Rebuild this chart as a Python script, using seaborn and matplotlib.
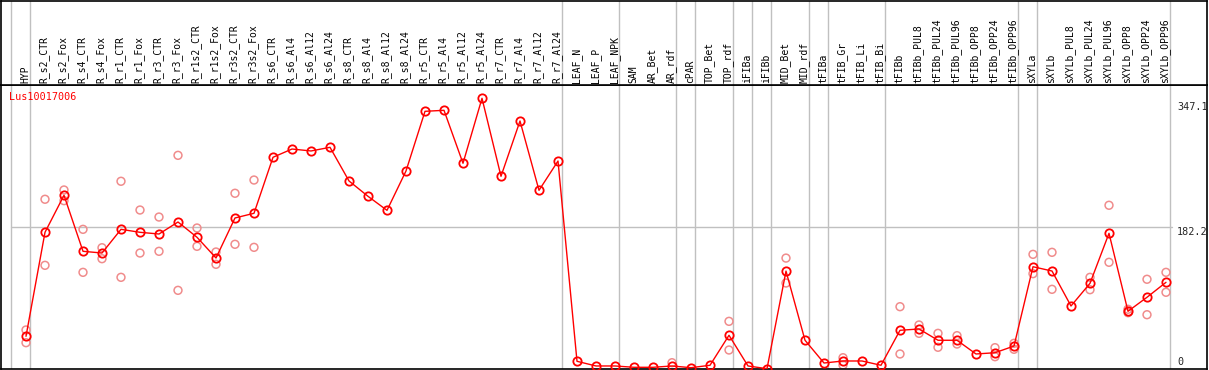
import numpy as np
import pandas as pd
import matplotlib
matplotlib.use("Agg")
import matplotlib.pyplot as plt
import matplotlib.transforms as mtransforms
import seaborn as sns

title = "Lus10017006"
categories = ["HYP", "R_s2_CTR", "R_s2_Fox", "R_s4_CTR", "R_s4_Fox", "R_r1_CTR", "R_r1_Fox",
              "R_r3_CTR", "R_r3_Fox", "R_r1s2_CTR", "R_r1s2_Fox", "R_r3s2_CTR", "R_r3s2_Fox",
              "R_s6_CTR", "R_s6_Al4", "R_s6_Al12", "R_s6_Al24", "R_s8_CTR", "R_s8_Al4",
              "R_s8_Al12", "R_s8_Al24", "R_r5_CTR", "R_r5_Al4", "R_r5_Al12", "R_r5_Al24",
              "R_r7_CTR", "R_r7_Al4", "R_r7_Al12", "R_r7_Al24", "LEAF_N", "LEAF_P", "LEAF_NPK",
              "SAM", "AR_Bet", "AR_rdf", "cPAR", "TOP_Bet", "TOP_rdf", "iFIBa", "iFIBb",
              "MID_Bet", "MID_rdf", "tFIBa", "tFIB_Gr", "tFIB_Li", "tFIB_Bi", "tFIBb",
              "tFIBb_PUL8", "tFIBb_PUL24", "tFIBb_PUL96", "tFIBb_OPP8", "tFIBb_OPP24",
              "tFIBb_OPP96", "sXYLa", "sXYLb", "sXYLb_PUL8", "sXYLb_PUL24", "sXYLb_PUL96",
              "sXYLb_OPP8", "sXYLb_OPP24", "sXYLb_OPP96"]

means = [41.6, 175.1, 222.6, 150.7, 148.5, 178.9, 175.1, 172.9, 188.3, 168.7, 142.1, 193.5, 199.5,
         271.4, 282.0, 279.5, 284.2, 241.0, 221.3, 203.3, 253.8, 330.4, 331.7, 263.7, 347.1,
         247.0, 318.0, 229.0, 266.6,
         9.5, 3.5, 3.5, 1.8, 1.8, 3.5, 1.3, 4.4, 42.9, 3.5, 0.0, 125.3, 36.5, 7.3, 9.9, 9.9, 4.4, 49.3,
         51.0, 36.5, 36.5, 18.9, 20.5, 29.1, 130.9, 125.4, 80.5, 109.6, 173.8, 73.7, 91.7, 110.9]

nan = np.nan
rep_a = [49.7, 217.5, 229.4, 178.9, 155.3, 240.6, 203.7, 194.7, 273.9, 180.6, 149.8, 225.2, 242.2,
         nan, nan, nan, nan, nan, nan, nan, nan, nan, nan, nan, nan, nan, nan, nan, nan,
         nan, nan, nan, nan, nan, 7.7, nan, nan, 60.8, nan, nan, 142.0, nan, nan, 14.1, nan, nan, 79.6,
         56.1, 45.4, 42.4, nan, 27.0, 32.6, 146.8, 149.4, nan, 117.3, 209.8, 76.3, 114.8, 123.7]
rep_b = [33.4, 132.7, 215.7, 123.7, 141.2, 117.3, 148.5, 150.7, 100.6, 157.1, 134.0, 159.7, 155.8,
         nan, nan, nan, nan, nan, nan, nan, nan, nan, nan, nan, nan, nan, nan, nan, nan,
         nan, nan, nan, nan, nan, nan, nan, nan, 24.0, nan, nan, 110.0, nan, nan, 4.7, nan, nan, 18.9,
         45.4, 27.5, 31.7, nan, 15.4, 24.9, 122.0, 101.9, nan, 101.4, 136.6, 71.9, 69.3, 98.1]

group_ends = ["HYP", "R_r7_Al24", "LEAF_NPK", "AR_rdf", "cPAR", "TOP_rdf", "iFIBa", "iFIBb",
              "MID_rdf", "tFIBa", "tFIB_Bi", "tFIBb_OPP96", "sXYLa", "sXYLb_OPP96"]
ytick_values = [347.1, 182.2, 0]
ytick_labels = ["347.1", "182.2", "0"]

idx = np.arange(len(categories))
df_mean = pd.DataFrame({"x": idx, "y": means})
df_rep = pd.concat([pd.DataFrame({"x": idx, "y": rep_a}), pd.DataFrame({"x": idx, "y": rep_b})]).dropna()

W, H = 1209, 370
fig = plt.figure(figsize=(W / 100, H / 100), dpi=100)
sns.set_style("white")
mono = "DejaVu Sans Mono"

def px(x):
    return (x - 26) / 19.0

xlim = (px(1), px(1207))
ax = fig.add_axes([1 / W, (H - 369.3) / H, 1206 / W, (369.3 - 85) / H])
hdr = fig.add_axes([1 / W, (H - 85) / H, 1206 / W, 84.5 / H])
scale = 0.779
ax.set_ylim((368.7 - 369.3) / scale, (368.7 - 85) / scale)
for a in (ax, hdr):
    a.set_xlim(*xlim)
    a.set_xticks([])
    a.set_yticks([])
    a.set_facecolor("white")
    for s in a.spines.values():
        s.set_color("black")
        s.set_linewidth(1.2)
hdr.set_ylim(0, 1)

# group separators
bounds = [-1] + [categories.index(c) for c in group_ends]
for b in bounds:
    for a in (ax, hdr):
        a.axvline(b + 0.22, color="#c0c0c0", lw=1, zorder=0)
ax.plot([px(11), px(1172)], [182.2, 182.2], color="#c0c0c0", lw=1, zorder=0)

sns.scatterplot(data=df_rep, x="x", y="y", ax=ax, marker="o", s=32, facecolors="none",
                edgecolor="#f08c8c", linewidth=1.1, zorder=2, legend=False)
sns.lineplot(data=df_mean, x="x", y="y", ax=ax, color="red", lw=1.0, zorder=3,
             marker="o", markersize=6, markerfacecolor="none", markeredgecolor="red",
             markeredgewidth=1.3, legend=False)
ax.set_xlabel("")
ax.set_ylabel("")

trans = mtransforms.blended_transform_factory(hdr.transData, hdr.transAxes)
for i, c in enumerate(categories):
    hdr.text(i - 0.05, 0.025, c, rotation=90, ha="center", va="bottom", transform=trans,
             fontsize=7, family=mono, color="black")

fig.text(9 / W, 1 - 97 / H, title, color="red", fontsize=7.3, family=mono, ha="left", va="center")
label_y = {347.1: 107.3, 182.2: 231.7, 0: 362.3}
for v, lab in zip(ytick_values, ytick_labels):
    fig.text(1177 / W, 1 - label_y[v] / H, lab, fontsize=7.3, family=mono, ha="left", va="center")

fig.savefig("out.png", dpi=100)
